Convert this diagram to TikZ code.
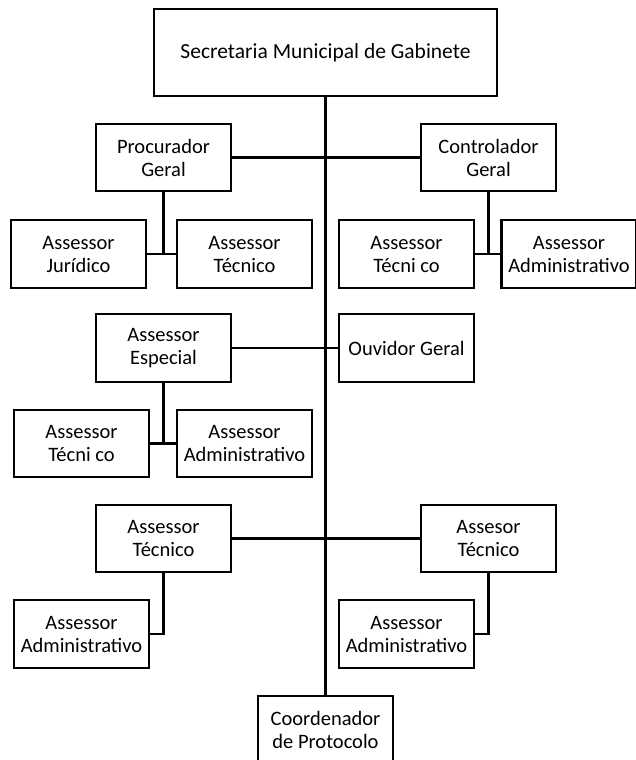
\documentclass[tikz,border=0pt]{standalone}
\usepackage{fontspec}
\setmainfont{Carlito}
\begin{document}
\begin{tikzpicture}[x=1pt,y=-1pt,
  box/.style={draw=black,line width=2.2pt,fill=white,minimum width=135pt,minimum height=67.5pt,
    inner sep=0pt,align=center,font=\fontsize{20.5}{23}\selectfont},
  topbox/.style={box,minimum width=343pt,minimum height=87pt,font=\fontsize{21.5}{24}\selectfont},
  link/.style={draw=black,line width=2.4pt}]
\clip (0,0) rectangle (636,760);
\useasboundingbox (0,0) rectangle (636,760);
\fill[white] (0,0) rectangle (636,760);
% nodes
\node[topbox] (sec) at (325.5,52.5) {Secretaria Municipal de Gabinete};
\node[box] (proc) at (163.5,157.5) {Procurador\\Geral};
\node[box] (ctrl) at (488.5,157.5) {Controlador\\Geral};
\node[box] (jur) at (78.5,254) {Assessor\\Jurídico};
\node[box] (tecA) at (244.5,254) {Assessor\\Técnico};
\node[box] (tecB) at (406.5,254) {Assessor\\Técni co};
\node[box] (admA) at (569,254) {Assessor\\Administrativo};
\node[box] (esp) at (163.5,348) {Assessor\\Especial};
\node[box] (ouv) at (406.5,348) {Ouvidor Geral};
\node[box] (tecC) at (81.5,443.5) {Assessor\\Técni co};
\node[box] (admB) at (244.5,443.5) {Assessor\\Administrativo};
\node[box] (tecD) at (163.5,538.5) {Assessor\\Técnico};
\node[box] (tecE) at (488.5,538.5) {Assesor\\Técnico};
\node[box] (admC) at (81.5,634) {Assessor\\Administrativo};
\node[box] (admD) at (406.5,634) {Assessor\\Administrativo};
\node[box] (coord) at (325.5,729.5) {Coordenador\\de Protocolo};
% connectors
\draw[link] (sec.south) -- (coord.north);
\draw[link] (proc.east) -- (ctrl.west);
\draw[link] (esp.east) -- (ouv.west);
\draw[link] (tecD.east) -- (tecE.west);
\draw[link] (proc.south) -- (proc.south |- jur.east);
\draw[link] (jur.east) -- (tecA.west);
\draw[link] (ctrl.south) -- (ctrl.south |- tecB.east);
\draw[link] (tecB.east) -- (admA.west);
\draw[link] (esp.south) -- (esp.south |- tecC.east);
\draw[link] (tecC.east) -- (admB.west);
\draw[link] (tecD.south) |- (admC.east);
\draw[link] (tecE.south) |- (admD.east);
\end{tikzpicture}
\end{document}
